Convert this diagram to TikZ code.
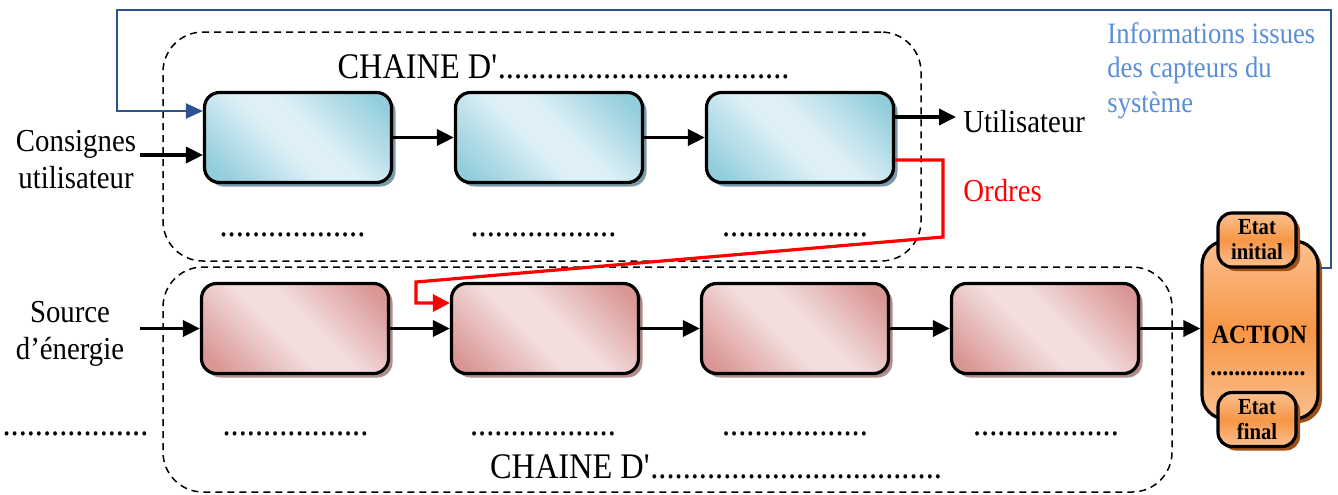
\documentclass[tikz,border=0pt]{standalone}
\usepackage{fontspec}
\setmainfont{Liberation Serif}[FakeStretch=0.9]
\usetikzlibrary{arrows.meta,shadows,calc}
\definecolor{bdark}{RGB}{146,205,220}
\definecolor{blight}{RGB}{222,240,246}
\definecolor{bshadow}{RGB}{124,155,168}
\definecolor{rdark}{RGB}{217,150,148}
\definecolor{rlight}{RGB}{243,222,222}
\definecolor{rshadow}{RGB}{178,140,140}
\definecolor{odark}{RGB}{247,150,70}
\definecolor{olight}{RGB}{250,192,144}
\definecolor{oshadow}{RGB}{160,80,20}
\definecolor{fbline}{RGB}{44,82,145}
\definecolor{infotext}{RGB}{91,142,214}
\definecolor{ordred}{RGB}{255,0,0}
\pgfdeclarehorizontalshading{bluesh}{100bp}{color(0bp)=(bdark); color(20bp)=(bdark); color(45bp)=(blight); color(55bp)=(blight); color(80bp)=(bdark); color(100bp)=(bdark)}
\pgfdeclarehorizontalshading{redsh}{100bp}{color(0bp)=(rdark); color(20bp)=(rdark); color(45bp)=(rlight); color(55bp)=(rlight); color(80bp)=(rdark); color(100bp)=(rdark)}
\pgfdeclareverticalshading{orsh}{100bp}{color(0bp)=(olight); color(25bp)=(olight); color(50bp)=(odark); color(75bp)=(olight); color(100bp)=(olight)}
\newcommand\fntmain{\fontsize{16}{18.5}\selectfont}
\newcommand\fntbig{\fontsize{18}{21}\selectfont}
\newcommand\fntinfo{\fontsize{14.8}{17.25}\selectfont}
\newcommand\fntact{\fontsize{13.2}{15}\selectfont\bfseries}
\newcommand\fntetat{\fontsize{11.5}{12.5}\selectfont\bfseries}
\tikzset{
  cont/.style={draw=black, dash pattern=on 3.5pt off 2.5pt, line width=0.75pt, rounded corners=20pt, inner sep=0pt},
  boxbase/.style={draw=black, line width=1.6pt, rounded corners=7.5pt, minimum width=93.5pt, minimum height=45pt, inner sep=0pt},
  bbox/.style={boxbase, shading=bluesh, shading angle=45, drop shadow={shadow xshift=2pt, shadow yshift=-2pt, fill=bshadow, opacity=1}},
  rbox/.style={boxbase, shading=redsh, shading angle=45, drop shadow={shadow xshift=2pt, shadow yshift=-2pt, fill=rshadow, opacity=1}},
  obox/.style={draw=black, line width=1.6pt, shading=orsh, inner sep=0pt, align=center, drop shadow={shadow xshift=2pt, shadow yshift=-2pt, fill=oshadow, opacity=1}},
  txt/.style={inner sep=0pt, font=\fntmain},
  dotsrow/.style={inner sep=0pt, font=\fntbig, anchor=base},
  arr/.style={line width=1.8pt, -{Triangle[length=8.5pt,width=8pt]}},
  fb/.style={draw=fbline, line width=1.1pt, -{Triangle[length=8.5pt,width=7.5pt]}},
  ord/.style={draw=ordred, line width=1.6pt, -{Triangle[length=8.5pt,width=8.5pt]}},
}
\begin{document}
\begin{tikzpicture}[x=0.5pt,y=-0.5pt]
\useasboundingbox (0,0) rectangle (1338,494);
% containers
\node[cont, minimum width=379pt, minimum height=114.5pt] (tc) at (542,146.5) {};
\node[cont, minimum width=504.5pt, minimum height=112.5pt] (bc) at (667.5,379.5) {};
% titles
\node[txt, font=\fntbig, anchor=base] (tct) at (563.5,78) {CHAINE D\textquotesingle....................................};
\node[txt, font=\fntbig, anchor=base] (bct) at (716,478) {CHAINE D\textquotesingle....................................};
% top boxes
\node[bbox] (b1) at (298,137.5) {};
\node[bbox] (b2) at (549,137.5) {};
\node[bbox] (b3) at (800,137.5) {};
% bottom boxes
\node[rbox] (r1) at (295,328.5) {};
\node[rbox] (r2) at (545,328.5) {};
\node[rbox] (r3) at (795,328.5) {};
\node[rbox] (r4) at (1045,328.5) {};
% action block
\node[obox, rounded corners=12pt, minimum width=58pt, minimum height=89pt] (act) at (1260,330) {};
\node[obox, rounded corners=7pt, minimum width=39pt, minimum height=27pt, font=\fntetat] (eti) at (1257,240) {Etat\\initial};
\node[obox, rounded corners=7pt, minimum width=39pt, minimum height=27pt, font=\fntetat] (etf) at (1257,419.5) {Etat\\final};
\node[inner sep=0pt, font=\fntact, anchor=base] (acttxt) at (1259.5,343) {ACTION};
\node[inner sep=0pt, font=\fntact, anchor=base] (actdots) at (1258,375) {................};
% dotted labels
\node[dotsrow] (d1) at (292.5,236) {..................};
\node[dotsrow] (d2) at (543.5,236) {..................};
\node[dotsrow] (d3) at (795,236) {..................};
\node[dotsrow] (e0) at (75.5,435) {..................};
\node[dotsrow] (e1) at (295.5,435) {..................};
\node[dotsrow] (e2) at (543,435) {..................};
\node[dotsrow] (e3) at (795,435) {..................};
\node[dotsrow] (e4) at (1046,435) {..................};
% side texts
\node[txt, align=center] (cons) at (76,160) {Consignes\\utilisateur};
\node[txt, align=center] (src) at (70,334) {Source\\d’énergie};
\node[txt, anchor=base west] (util) at (963,132) {Utilisateur};
\node[txt, anchor=base west, text=ordred] (ordtxt) at (963,201) {Ordres};
\node[inner sep=0pt, font=\fntinfo, text=infotext, align=left, anchor=north west] (info) at (1107,22) {Informations issues\\des capteurs du\\système};
% coordinates
\coordinate (cin) at (140,155);
\coordinate (sin) at (140,328.5);
\coordinate (uout) at (956,117);
\coordinate (fbTR) at (1331,10);
\coordinate (fbTL) at (117,10);
\coordinate (ordR) at (943,237);
\coordinate (ordL) at (416,282);
% connectors
\draw[arr] (cin) -- (cin -| b1.west);
\draw[arr] (b1) -- (b2);
\draw[arr] (b2) -- (b3);
\draw[arr] (b3.east |- uout) -- (uout);
\draw[arr] (sin) -- (sin -| r1.west);
\draw[arr] (r1) -- (r2);
\draw[arr] (r2) -- (r3);
\draw[arr] (r3) -- (r4);
\draw[arr] (r4.east) -- (r4.east -| act.west);
\draw[fb] ([yshift=31pt]act.east) -| (fbTR) -- (fbTL) |- ([yshift=13.25pt]b1.west);
\draw[ord] ([yshift=-11.25pt]b3.east) -| (ordR) -- (ordL) |- ([yshift=12.75pt]r2.west);
\end{tikzpicture}
\end{document}
